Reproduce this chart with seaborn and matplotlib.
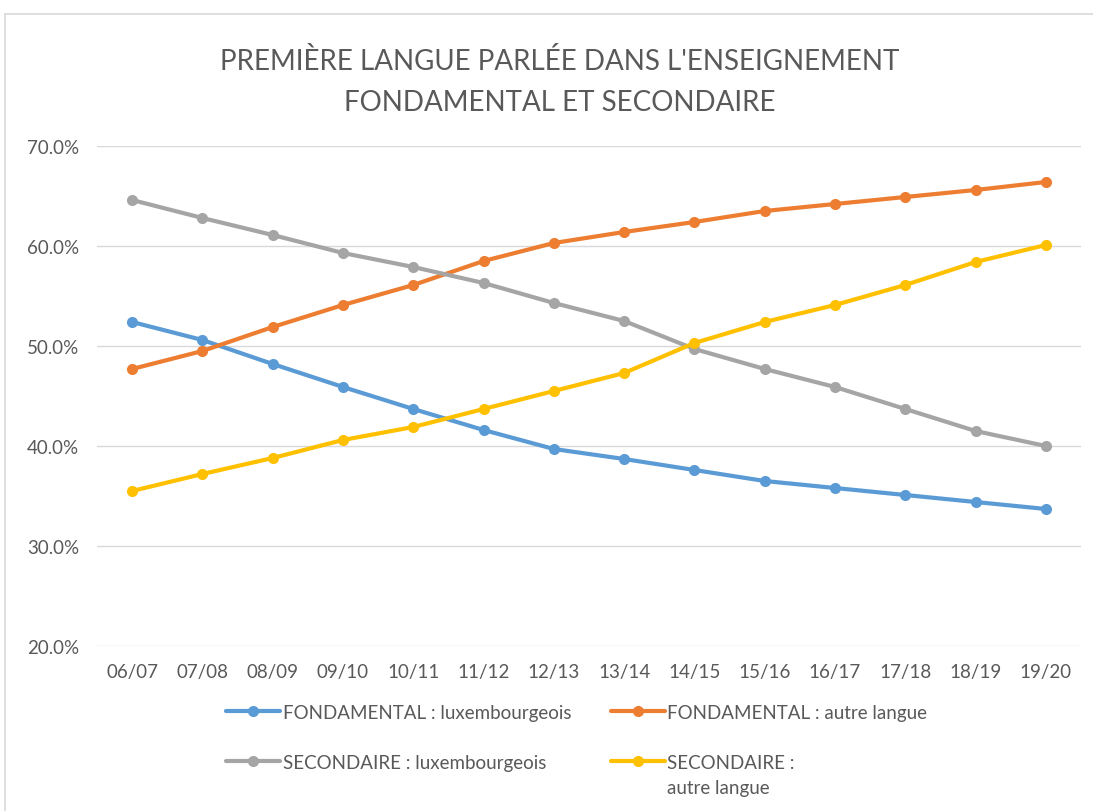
import matplotlib
matplotlib.use("Agg")
import matplotlib.pyplot as plt
import seaborn as sns
import pandas as pd
from matplotlib.patches import Rectangle
from matplotlib.ticker import FuncFormatter

# --- Données ---
annees = ["06/07", "07/08", "08/09", "09/10", "10/11", "11/12", "12/13",
          "13/14", "14/15", "15/16", "16/17", "17/18", "18/19", "19/20"]
fond_lux = [52.4, 50.6, 48.2, 45.9, 43.7, 41.6, 39.7, 38.7, 37.6, 36.5, 35.8, 35.1, 34.4, 33.7]
fond_autre = [47.7, 49.5, 51.9, 54.1, 56.1, 58.5, 60.3, 61.4, 62.4, 63.5, 64.2, 64.9, 65.6, 66.4]
sec_lux = [64.6, 62.8, 61.1, 59.3, 57.9, 56.3, 54.3, 52.5, 49.7, 47.7, 45.9, 43.7, 41.5, 40.0]
sec_autre = [35.5, 37.2, 38.8, 40.6, 41.9, 43.7, 45.5, 47.3, 50.3, 52.4, 54.1, 56.1, 58.4, 60.1]

series = {
    "FONDAMENTAL : luxembourgeois": fond_lux,
    "FONDAMENTAL : autre langue": fond_autre,
    "SECONDAIRE : luxembourgeois": sec_lux,
    "SECONDAIRE :": sec_autre,
}
couleurs = ["#5B9BD5", "#ED7D31", "#A5A5A5", "#FFC000"]

df = pd.concat(
    [pd.DataFrame({"Annee": annees, "Valeur": v, "Serie": k}) for k, v in series.items()],
    ignore_index=True)

sns.set_style("white")
plt.rcParams["font.family"] = ["Lato", "DejaVu Sans"]
gris_txt = "#595959"

fig = plt.figure(figsize=(10.93, 8.12), dpi=100)
ax = fig.add_axes([97 / 1093, 1 - 647 / 812, (1081 - 97) / 1093, 500 / 812])

sns.lineplot(data=df, x="Annee", y="Valeur", hue="Serie", palette=couleurs,
             marker="o", markersize=8, markeredgewidth=0, linewidth=3,
             sort=False, ax=ax)

ax.set_ylim(20, 70)
ax.set_xlim(-0.5, len(annees) - 0.5)
ax.set_yticks([20, 30, 40, 50, 60, 70])
ax.yaxis.set_major_formatter(FuncFormatter(lambda v, p: f"{v:.1f}%"))
ax.grid(axis="y", color="#D9D9D9", linewidth=1)
ax.set_axisbelow(True)
for s in ax.spines.values():
    s.set_visible(False)
ax.set_xlabel("")
ax.set_ylabel("")
ax.tick_params(axis="both", length=0, labelsize=13.5, labelcolor=gris_txt)
ax.tick_params(axis="x", pad=12)
ax.tick_params(axis="y", pad=13)

# titre
fig.text(0.512, 1 - 61 / 812, "PREMIÈRE LANGUE PARLÉE DANS L'ENSEIGNEMENT",
         ha="center", va="center", fontsize=20, color=gris_txt)
fig.text(0.512, 1 - 103 / 812, "FONDAMENTAL ET SECONDAIRE",
         ha="center", va="center", fontsize=20, color=gris_txt)

# légende
handles, labels = ax.get_legend_handles_labels()
ax.legend_.remove()
ordre = [0, 2, 1, 3]
leg = fig.legend([handles[i] for i in ordre], [labels[i] for i in ordre],
                 ncol=2, loc="upper left", bbox_to_anchor=(226 / 1093, 1 - 705 / 812),
                 frameon=False, fontsize=13.5, handlelength=2.9, handletextpad=0.12,
                 labelspacing=1.75, columnspacing=2.1, borderpad=0, borderaxespad=0)
for t in leg.get_texts():
    t.set_color(gris_txt)

fig.canvas.draw()
bb = leg.get_texts()[3].get_window_extent()
fig.text(bb.x0 / 1093, (bb.y0 - 8) / 812, "autre langue", ha="left", va="top",
         fontsize=13.5, color=gris_txt)

# cadre
fig.add_artist(Rectangle((5 / 1093, -0.05), 1.1, 0.05 + 1 - 15 / 812,
                         transform=fig.transFigure, fill=False,
                         edgecolor="#D9D9D9", linewidth=1.2, clip_on=False))

fig.savefig("out.png", dpi=100, facecolor="white")
